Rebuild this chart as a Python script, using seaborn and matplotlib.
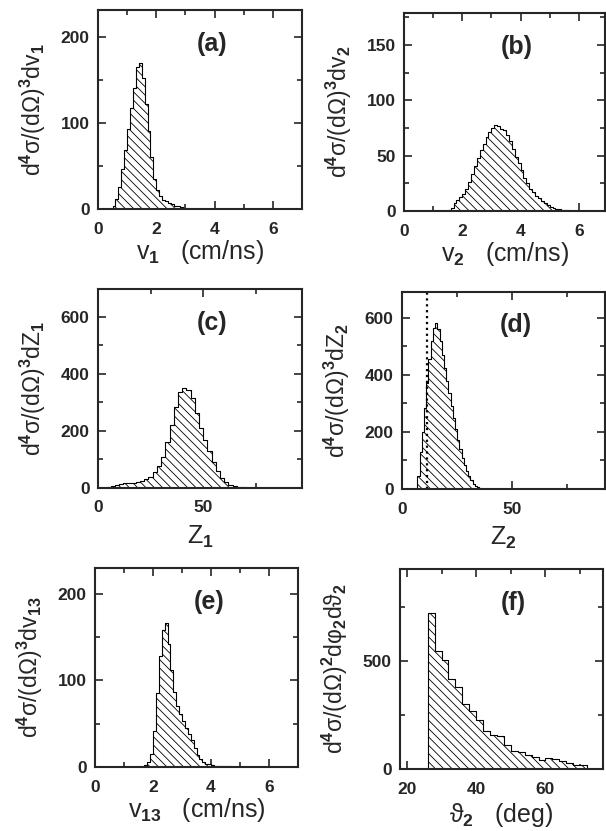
import numpy as np
import pandas as pd
import matplotlib
matplotlib.use("Agg")
import matplotlib.pyplot as plt
import seaborn as sns
from matplotlib.ticker import MultipleLocator

# %% data (bin start, bin width, heights)

v1_start, v1_width = 0.4, 0.1
v1_vals = [0, 3, 12, 26, 46, 68, 93, 117, 141, 165, 170, 152, 122, 90, 60, 35,
           22, 15, 11, 9, 7, 6, 4, 3, 2, 1.5, 1, 0.5]

v2_start, v2_width = 1.5, 0.1
v2_vals = [1, 3, 7, 10, 13, 15, 20, 26, 33, 41, 48, 55, 61, 67, 71, 75, 78, 77,
           74, 73, 69, 63, 56, 49, 43, 37, 30, 25, 20, 17, 14, 12, 9, 7, 5, 4,
           3, 2, 1.5, 1, 0.7, 0.5, 0.3]

z1_start, z1_width = 4, 2
z1_vals = [2, 6, 10, 14, 16, 17, 19, 21, 24, 30, 40, 55, 78, 110, 160, 220, 285,
           335, 352, 345, 315, 262, 210, 168, 130, 92, 58, 35, 20, 11, 6, 3, 2,
           1, 0.5, 0.3]

z2_start, z2_width = 7, 1
z2_vals = [44, 130, 200, 285, 370, 455, 520, 565, 580, 560, 520, 470, 425, 380,
           335, 290, 250, 210, 172, 140, 110, 85, 62, 44, 30, 18, 11, 6, 3]
z2_cut = 11.2

v13_start, v13_width = 1.6, 0.1
v13_vals = [0.5, 2, 6, 15, 42, 85, 128, 158, 166, 142, 112, 87, 70, 61, 53, 45,
            38, 31, 22, 14, 9, 6, 4, 3, 2, 1.5, 1.2, 1, 0.8, 0.7, 0.6, 0.5, 0.5,
            0.4, 0.4, 0.3]

th_start, th_width = 26, 2
th_vals = [722, 548, 506, 418, 378, 301, 267, 228, 174, 159, 151, 113, 82, 79,
           63, 57, 43, 51, 46, 39, 28, 20, 17]

panel_tags = ["(a)", "(b)", "(c)", "(d)", "(e)", "(f)"]
x_labels = [r"v$_1$   (cm/ns)", r"v$_2$   (cm/ns)", r"Z$_1$", r"Z$_2$",
            r"v$_{13}$   (cm/ns)", r"ϑ$_2$   (deg)"]
y_labels = [r"d$^4$σ/(dΩ)$^3$dv$_1$", r"d$^4$σ/(dΩ)$^3$dv$_2$",
            r"d$^4$σ/(dΩ)$^3$dZ$_1$", r"d$^4$σ/(dΩ)$^3$dZ$_2$",
            r"d$^4$σ/(dΩ)$^3$dv$_{13}$", r"d$^4$σ/(dΩ)$^2$dφ$_2$dϑ$_2$"]

# %% style
sns.set_style("ticks")
plt.rcParams["font.family"] = ["Liberation Sans", "DejaVu Sans"]
plt.rcParams["font.weight"] = "bold"
plt.rcParams["mathtext.fontset"] = "custom"
plt.rcParams["mathtext.rm"] = "Liberation Sans:bold"
plt.rcParams["mathtext.default"] = "rm"
plt.rcParams["hatch.linewidth"] = 0.6
plt.rcParams["xtick.direction"] = "in"
plt.rcParams["ytick.direction"] = "in"

W, H = 606, 831
fig = plt.figure(figsize=(W / 100, H / 100), dpi=100)


def make_ax(l, r, t, b):
    return fig.add_axes([l / W, 1 - b / H, (r - l) / W, (b - t) / H])


def hist(ax, start, width, vals):
    n = len(vals)
    centers = start + width * (np.arange(n) + 0.5)
    df = pd.DataFrame({"x": centers, "w": vals})
    sns.histplot(data=df, x="x", weights="w", binwidth=width,
                 binrange=(start, start + width * n), element="step", fill=True,
                 facecolor="white", edgecolor="black", hatch="\\\\\\\\",
                 linewidth=0.8, alpha=1, ax=ax)


def style(ax, xlim, ylim, xmaj, xmin, ymaj, ymin, tag, xlab, ylab, xpad=1):
    ax.set_xlim(*xlim)
    ax.set_ylim(*ylim)
    ax.xaxis.set_major_locator(MultipleLocator(xmaj))
    ax.xaxis.set_minor_locator(MultipleLocator(xmin))
    ax.yaxis.set_major_locator(MultipleLocator(ymaj))
    ax.yaxis.set_minor_locator(MultipleLocator(ymin))
    ax.tick_params(which="both", top=True, right=True, width=1.2)
    ax.tick_params(which="major", length=6)
    ax.tick_params(which="minor", length=3.5)
    ax.tick_params(axis="x", pad=9, labelsize=12.5)
    ax.tick_params(axis="y", pad=6, labelsize=12.5)
    for sp in ax.spines.values():
        sp.set_linewidth(1.5)
        sp.set_visible(True)
    ax.set_xlabel(xlab, fontsize=18, labelpad=xpad)
    ax.set_ylabel(ylab, fontsize=16.5, labelpad=9)
    ax.text(0.56, 0.83, tag, transform=ax.transAxes, fontsize=18,
            ha="center", va="center")


# (a)
ax = make_ax(98, 302, 10, 209)
hist(ax, v1_start, v1_width, v1_vals)
style(ax, (0, 7), (0, 231), 2, 1, 100, 50, panel_tags[0], x_labels[0], y_labels[0])

# (b)
ax = make_ax(404, 605, 13, 211)
hist(ax, v2_start, v2_width, v2_vals)
style(ax, (0, 6.9), (0, 179), 2, 1, 50, 25, panel_tags[1], x_labels[1], y_labels[1])

# (c)
ax = make_ax(98, 302, 289, 488)
hist(ax, z1_start, z1_width, z1_vals)
style(ax, (0, 97), (0, 698), 50, 25, 200, 100, panel_tags[2], x_labels[2], y_labels[2],
      xpad=6)

# (d)
ax = make_ax(402, 605, 292, 489)
hist(ax, z2_start, z2_width, z2_vals)
ax.axvline(z2_cut, color="black", linestyle=":", linewidth=1.6)
style(ax, (0, 92), (0, 690), 50, 25, 200, 100, panel_tags[3], x_labels[3], y_labels[3],
      xpad=6)

# (e)
ax = make_ax(95, 298, 568, 767)
hist(ax, v13_start, v13_width, v13_vals)
style(ax, (0, 7), (0, 230), 2, 1, 100, 50, panel_tags[4], x_labels[4], y_labels[4])

# (f)
ax = make_ax(400, 603, 569, 769)
hist(ax, th_start, th_width, th_vals)
style(ax, (18, 76.6), (0, 925), 20, 10, 500, 250, panel_tags[5], x_labels[5], y_labels[5],
      xpad=3)

fig.savefig("out.png", dpi=100)
